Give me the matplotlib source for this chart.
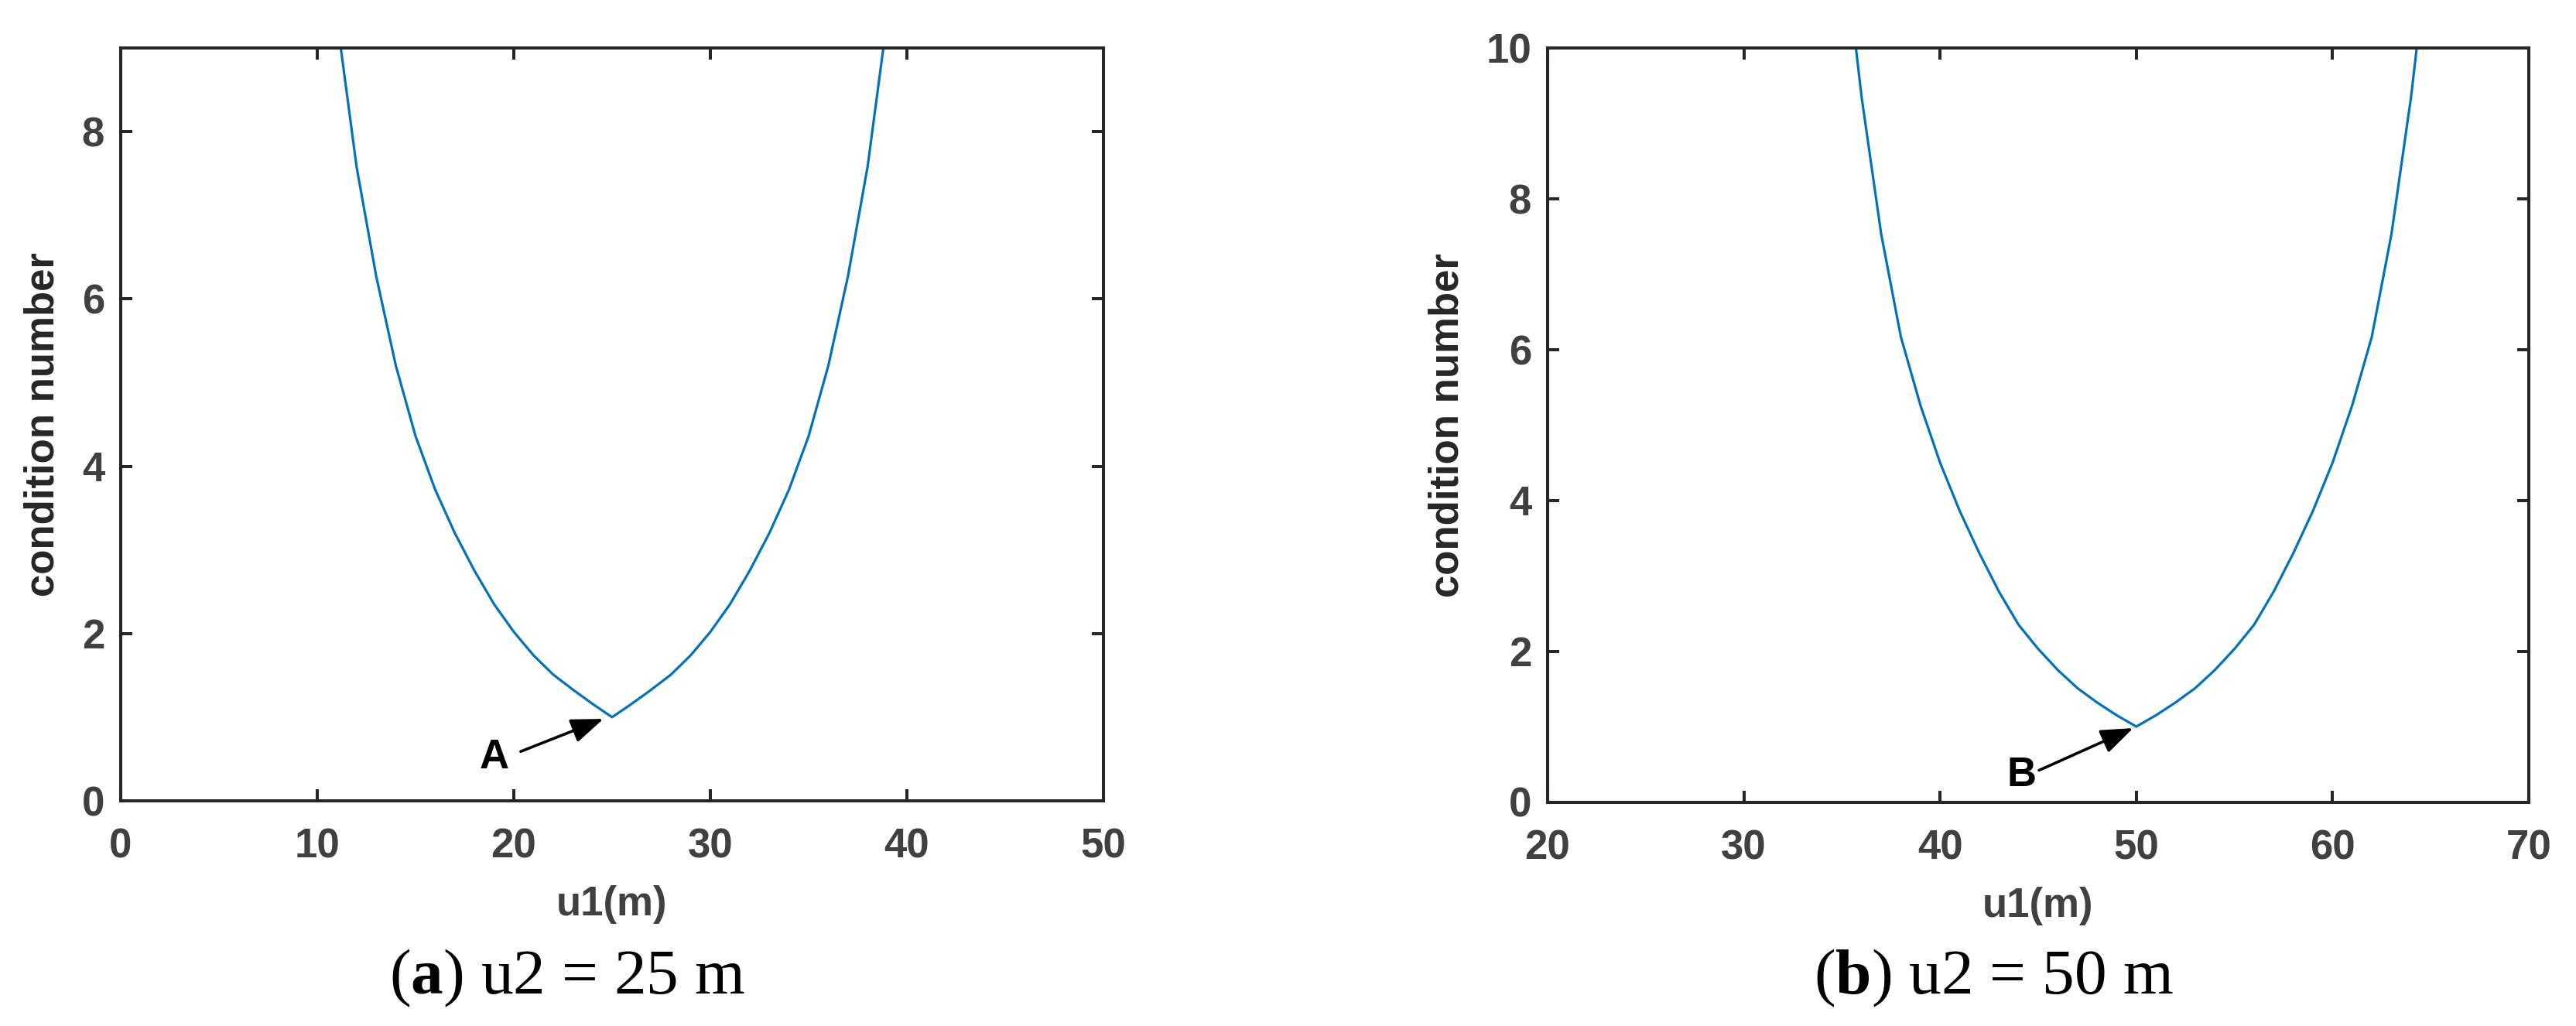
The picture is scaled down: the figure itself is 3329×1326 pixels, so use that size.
import matplotlib
matplotlib.use("Agg")
import matplotlib.pyplot as plt

# ---------------- data ----------------
u1_a = list(range(11, 40))
cond_a = [9.35, 7.58, 6.27, 5.20, 4.36, 3.72, 3.20, 2.75, 2.35, 2.02,
          1.74, 1.51, 1.33, 1.16, 1.00, 1.16, 1.33, 1.51, 1.74, 2.02,
          2.35, 2.75, 3.20, 3.72, 4.36, 5.20, 6.27, 7.58, 9.35]

u1_b = list(range(35, 66))
cond_b = [11.6, 9.35, 7.53, 6.17, 5.26, 4.50, 3.86, 3.30, 2.79, 2.35,
          2.03, 1.75, 1.51, 1.32, 1.15, 1.00, 1.15, 1.32, 1.51, 1.75,
          2.03, 2.35, 2.79, 3.30, 3.86, 4.50, 5.26, 6.17, 7.53, 9.35, 11.6]

xticks_a = [0, 10, 20, 30, 40, 50]
yticks_a = [0, 2, 4, 6, 8]
xticks_b = [20, 30, 40, 50, 60, 70]
yticks_b = [0, 2, 4, 6, 8, 10]

xlabel = "u1(m)"
ylabel = "condition number"
captions = ["u2 = 25 m", "u2 = 50 m"]
caption_letters = ["a", "b"]
point_labels = ["A", "B"]

# ---------------- style ----------------
plt.rcParams["font.family"] = ["Liberation Sans", "DejaVu Sans"]
plt.rcParams["mathtext.fontset"] = "custom"
plt.rcParams["mathtext.rm"] = "Liberation Serif"
plt.rcParams["mathtext.bf"] = "Liberation Serif:bold"

W, H = 3330, 1326
fig = plt.figure(figsize=(W / 100, H / 100), dpi=100)
fig.patch.set_facecolor("white")

AX_COL = "#262626"
TICK_COL = "#404040"
LINE_COL = "#0072BD"

axA = fig.add_axes([156 / W, (H - 1035) / H, 1270 / W, 973 / H])
axB = fig.add_axes([2000 / W, (H - 1036.5) / H, 1268 / W, 974.5 / H])

def style(ax, xt, yt, xlim, ylim):
    ax.set_xlim(*xlim)
    ax.set_ylim(*ylim)
    ax.set_xticks(xt)
    ax.set_yticks(yt)
    for s in ax.spines.values():
        s.set_linewidth(2.9)
        s.set_color(AX_COL)
    ax.tick_params(axis="both", direction="in", length=10.5, width=2.9,
                   color=AX_COL, top=True, right=True,
                   labelsize=38, labelcolor=TICK_COL)
    ax.tick_params(axis="x", pad=25)
    ax.tick_params(axis="y", pad=15)
    for lab in ax.get_xticklabels() + ax.get_yticklabels():
        lab.set_fontweight("bold")
    ax.set_xlabel(xlabel, fontsize=38, fontweight="bold", color=TICK_COL)
    ax.xaxis.set_label_coords(0.5, -0.1377)
    ax.xaxis.label.set_va("center")
    ax.set_ylabel(ylabel, fontsize=38, fontweight="bold", color=AX_COL,
                  labelpad=18)

style(axA, xticks_a, yticks_a, (0, 50), (0, 9))
style(axB, xticks_b, yticks_b, (20, 70), (0, 10))

axA.plot(u1_a, cond_a, color=LINE_COL, lw=2.3)
axB.plot(u1_b, cond_b, color=LINE_COL, lw=2.3)

arrow_kw = dict(arrowstyle="-|>,head_length=0.85,head_width=0.32",
                mutation_scale=30, lw=2.6, color="black",
                shrinkA=0, shrinkB=0)
axA.annotate("", xy=(24.56, 0.98), xytext=(20.35, 0.59), arrowprops=arrow_kw)
axA.text(19.0, 0.52, point_labels[0], ha="center", va="center",
         fontsize=38, fontweight="bold", color="black")
axB.annotate("", xy=(49.84, 0.98), xytext=(45.04, 0.42), arrowprops=arrow_kw)
axB.text(44.14, 0.35, point_labels[1], ha="center", va="center",
         fontsize=38, fontweight="bold", color="black")

for cx, letter, cap in [(733, caption_letters[0], captions[0]),
                        (2576, caption_letters[1], captions[1])]:
    fig.text(cx / W, (H - 1284) / H,
             "(" + r"$\mathbf{" + letter + "}$" + ") " + cap,
             ha="center", va="baseline", fontsize=60,
             family="Liberation Serif", color="black")

fig.savefig("out.png", dpi=100, facecolor="white")
